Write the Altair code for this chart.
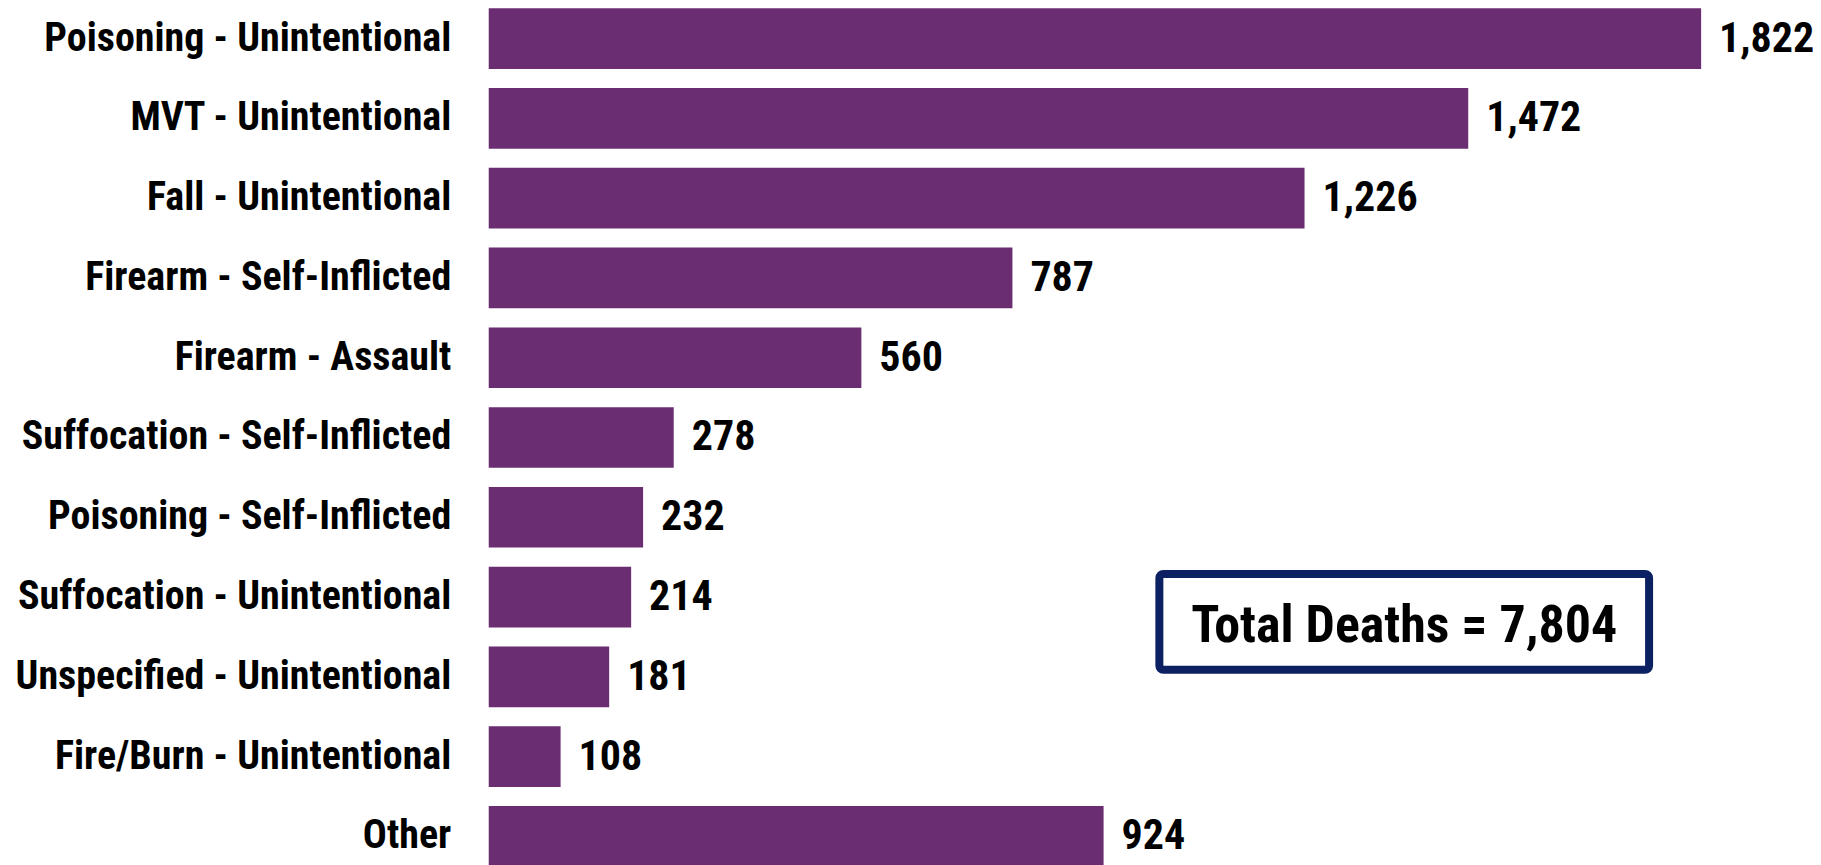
import altair as alt
import pandas as pd

categories = [
    "Poisoning - Unintentional",
    "MVT - Unintentional",
    "Fall - Unintentional",
    "Firearm - Self-Inflicted",
    "Firearm - Assault",
    "Suffocation - Self-Inflicted",
    "Poisoning - Self-Inflicted",
    "Suffocation - Unintentional",
    "Unspecified - Unintentional",
    "Fire/Burn - Unintentional",
    "Other",
]
deaths = [1822, 1472, 1226, 787, 560, 278, 232, 214, 181, 108, 924]
total_label = "Total Deaths = 7,804"

FONT = "Roboto Condensed, Open Sans Condensed, Noto Sans Condensed, Roboto, sans-serif"
BAR = "#6B2D72"
NAVY = "#0B2161"

df = pd.DataFrame({"cause": categories, "deaths": deaths})

y = alt.Y(
    "cause:N",
    sort=categories,
    title=None,
    scale=alt.Scale(paddingInner=0.24, paddingOuter=0),
    axis=alt.Axis(
        domain=False,
        ticks=False,
        labelFont=FONT,
        labelFontSize=40,
        labelFontWeight="bold",
        labelColor="#000000",
        labelPadding=38,
        labelLimit=800,
    ),
)
x = alt.X(
    "deaths:Q",
    title=None,
    scale=alt.Scale(domain=[0, 1900], nice=False),
    axis=None,
)

bars = alt.Chart(df).mark_bar(color=BAR).encode(x=x, y=y)

values = alt.Chart(df).mark_text(
    align="left",
    baseline="middle",
    dx=18,
    font=FONT,
    fontSize=42,
    fontWeight="bold",
    color="#000000",
).encode(x=x, y=y, text=alt.Text("deaths:Q", format=","))

box_df = pd.DataFrame({"label": [total_label]})
box = alt.Chart(box_df).mark_rect(
    fill="white", stroke=NAVY, strokeWidth=8, cornerRadius=4
).encode(
    x=alt.value(671), x2=alt.value(1161), y=alt.value(566), y2=alt.value(662)
)
box_text = alt.Chart(box_df).mark_text(
    align="center",
    baseline="middle",
    font=FONT,
    fontSize=52,
    fontWeight="bold",
    color="#000000",
).encode(x=alt.value(916), y=alt.value(618), text="label:N")

chart = (
    alt.layer(bars, values, box, box_text)
    .properties(
        width=1265,
        height=859,
        background="white",
        autosize=alt.AutoSizeParams(type="none"),
        padding={"left": 481, "top": 0, "right": 60, "bottom": 0},
    )
    .configure_view(stroke=None, strokeWidth=0)
)

chart.save("out.html", embed_options={"renderer": "svg", "actions": False})
